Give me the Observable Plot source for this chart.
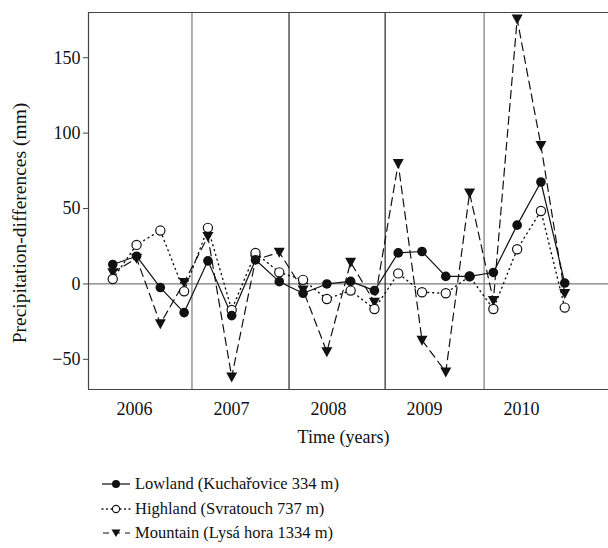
<!DOCTYPE html>
<html>
<head>
<meta charset="utf-8">
<script src="https://cdn.jsdelivr.net/npm/d3@7"></script>
<script src="https://cdn.jsdelivr.net/npm/@observablehq/plot@0.6"></script>
<style>
  body { margin: 0; background: #fff; font-family: "Liberation Serif", "DejaVu Serif", serif; }
  #chart { width: 608px; height: 450px; }
  #legend { padding-left: 100px; padding-top: 22px; font-size: 16.5px; color: #111; }
  .row { display: flex; align-items: center; height: 24.5px; }
  .row svg { margin-right: 3px; }
</style>
</head>
<body>
<div id="chart"></div>
<div id="legend"></div>
<script>
// ---- data ----
const years = [2006, 2007, 2008, 2009, 2010];
const seasons = [0, 1, 2, 3, 4, 5, 6, 7, 8, 9, 10, 11, 12, 13, 14, 15, 16, 17, 18, 19];
const lowland  = [12.9, 18.4, -2.4, -19, 15.3, -21, 16, 1.5, -6.2, 0, 1.7, -4.4, 20.6, 21.5, 5, 5, 7.6, 39, 67.6, 0.6];
const highland = [3.3, 25.9, 35.4, -4.9, 37.2, -17.2, 20.6, 7.7, 2.7, -10, -4.4, -16.6, 7, -5.5, -6.2, 5, -16.6, 23, 48.4, -15.7];
const mountain = [7.5, 17, -26.4, 1, 31.4, -61.7, 16, 21, -4, -45, 14.4, -12.2, 79.8, -37.3, -58.4, 60.3, -11, 175.7, 91.8, -6.4];
const seriesNames = ["Lowland (Kuchařovice 334 m)", "Highland (Svratouch 737 m)", "Mountain (Lysá hora 1334 m)"];
const yearLabelPos = [0.91, 4.99, 9.07, 13.1, 17.18];   // x-axis tick positions (season units)
const greyBoundaries = [3.33, 15.61];                    // vertical separators (season units)
const blackBoundaries = [7.41, 11.45];
const yTicks = [-50, 0, 50, 100, 150];

// ---- build tables ----
const rows = arr => arr.map((v, k) => ({x: seasons[k], y: v}));
const L = rows(lowland), H = rows(highland), M = rows(mountain);
const labelMap = new Map(yearLabelPos.map((p, k) => [p, String(years[k])]));

const triDown = {
  draw(ctx, size) {
    const r = Math.sqrt(size / Math.PI);
    ctx.moveTo(-1.1 * r, -0.9 * r);
    ctx.lineTo(1.1 * r, -0.9 * r);
    ctx.lineTo(0, 1.1 * r);
    ctx.closePath();
  }
};

const xDomain = [-1.02, 20.84];
const yDomain = [-70, 180];

const chart = Plot.plot({
  width: 608, height: 450,
  marginLeft: 88, marginRight: 0, marginTop: 12, marginBottom: 61,
  x: {domain: xDomain, axis: null},
  y: {domain: yDomain, axis: null},
  style: {fontFamily: "'Liberation Serif', serif", fontSize: "18px", color: "#111", background: "#fff", overflow: "visible"},
  marks: [
    Plot.ruleY([0], {stroke: "#7a7a7a", strokeWidth: 1.2}),
    Plot.ruleX(greyBoundaries, {stroke: "#7a7a7a", strokeWidth: 1.2}),
    Plot.ruleX(blackBoundaries, {stroke: "#111", strokeWidth: 1.1}),
    Plot.ruleY([yDomain[1]], {stroke: "#444", strokeWidth: 1.2}),
    Plot.ruleY([yDomain[0]], {stroke: "#444", strokeWidth: 1.2}),
    Plot.ruleX([xDomain[0]], {stroke: "#444", strokeWidth: 1.2}),
    Plot.axisY({ticks: yTicks, tickSize: 5, tickPadding: 3, label: null, fontSize: 18,
      tickFormat: d => d < 0 ? "\u2212" + Math.abs(d) : String(d), stroke: "#444"}),
    Plot.axisX({ticks: yearLabelPos, tickSize: 0, tickPadding: 13, label: null, fontSize: 18,
      tickFormat: d => labelMap.get(d)}),
    Plot.text(["Time (years)"], {frameAnchor: "bottom", dy: 53, dx: -5, fontSize: 18}),
    Plot.text(["Precipitation-differences (mm)"], {frameAnchor: "left", textAnchor: "middle", rotate: -90, dx: -69, dy: 22, fontSize: 19.5}),
    Plot.line(M, {x: "x", y: "y", stroke: "#111", strokeWidth: 1.2, strokeDasharray: "8,5"}),
    Plot.line(H, {x: "x", y: "y", stroke: "#111", strokeWidth: 1.4, strokeDasharray: "1,4", strokeLinecap: "round"}),
    Plot.line(L, {x: "x", y: "y", stroke: "#111", strokeWidth: 1.2}),
    Plot.dot(M, {x: "x", y: "y", symbol: triDown, r: 5, fill: "#111", stroke: "none"}),
    Plot.dot(H, {x: "x", y: "y", r: 4.6, fill: "#fff", stroke: "#111", strokeWidth: 1.2}),
    Plot.dot(L, {x: "x", y: "y", r: 4.8, fill: "#111", stroke: "none"})
  ]
});
document.getElementById("chart").appendChild(chart);

// ---- legend ----
const swatch = [
  `<line x1="2" y1="12" x2="30" y2="12" stroke="#111" stroke-width="1.2"/><circle cx="16" cy="12" r="4" fill="#111"/>`,
  `<line x1="2" y1="12" x2="30" y2="12" stroke="#111" stroke-width="1.3" stroke-dasharray="1,3.5" stroke-linecap="round"/><circle cx="16" cy="12" r="3.6" fill="#fff" stroke="#111" stroke-width="1.1"/>`,
  `<line x1="2" y1="12" x2="30" y2="12" stroke="#111" stroke-width="1.2" stroke-dasharray="6,5" stroke-dashoffset="-1"/><path d="M11.5,8.5L20.5,8.5L16,16Z" fill="#111"/>`
];
const leg = document.getElementById("legend");
seriesNames.forEach((name, k) => {
  const row = document.createElement("div");
  row.className = "row";
  row.innerHTML = `<svg width="32" height="24">${swatch[k]}</svg><span>${name}</span>`;
  leg.appendChild(row);
});
</script>
</body>
</html>
